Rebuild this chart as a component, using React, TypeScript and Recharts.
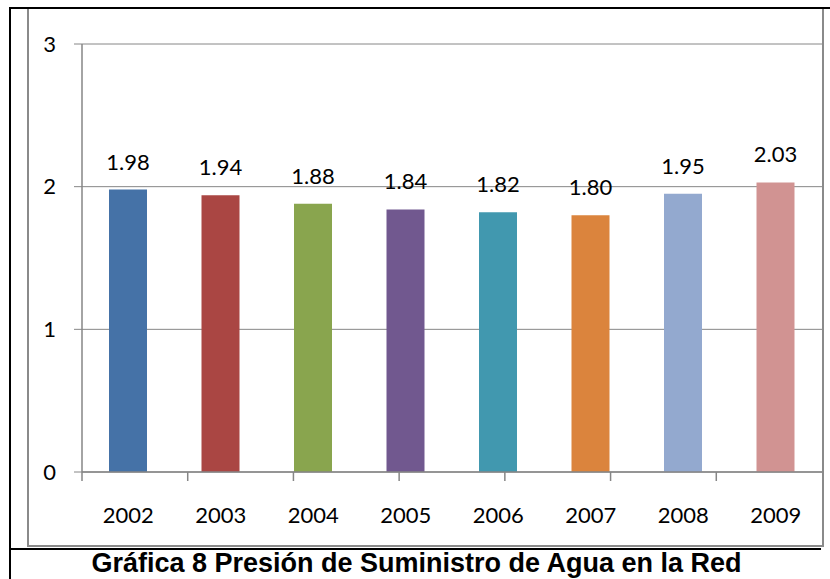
import React from "react";
import { BarChart, Bar, XAxis, YAxis, CartesianGrid, Cell, LabelList } from "recharts";

const years = ["2002", "2003", "2004", "2005", "2006", "2007", "2008", "2009"];
const pressure = [1.98, 1.94, 1.88, 1.84, 1.82, 1.8, 1.95, 2.03];
const barColors = ["#4572A7", "#AA4643", "#89A54E", "#71588F", "#4198AF", "#DB843D", "#93A9CF", "#D19392"];
const yTicks = [0, 1, 2, 3];
const boundaryTicks = [0, 1, 2, 3, 4, 5, 6, 7, 8];
const caption = "Gráfica 8 Presión de Suministro de Agua en la Red";

const data = years.map((year, i) => ({ year, value: pressure[i] }));

const GRAY = "#868686";
const labelFont = { fontFamily: "Lato, 'Open Sans', sans-serif", fontSize: 22, fill: "#000" };

export default function App() {
  return (
    <div style={{ position: "absolute", left: 0, top: 0, width: 830, height: 579, background: "#fff", overflow: "hidden" }}>
      {/* gray chart frame */}
      <div
        style={{
          position: "absolute",
          left: 27,
          top: 7,
          width: 797,
          height: 540,
          boxSizing: "border-box",
          border: `2px solid #8a8a8a`,
        }}
      />
      <div style={{ position: "absolute", left: 29, top: 9 }}>
        <BarChart width={793} height={536} data={data} margin={{ top: 35, right: 0, bottom: 0, left: 0 }}>
          <CartesianGrid xAxisId="b" horizontal vertical={false} stroke={GRAY} />
          <XAxis
            xAxisId="b"
            type="number"
            domain={[0, 8]}
            allowDataOverflow
            ticks={boundaryTicks}
            height={1}
            tick={() => null}
            tickSize={9}
            tickLine={{ stroke: GRAY, strokeWidth: 1.5 }}
            axisLine={{ stroke: GRAY, strokeWidth: 1.5 }}
          />
          <XAxis
            xAxisId="cat"
            dataKey="year"
            height={72}
            tickLine={false}
            axisLine={false}
            tickSize={0}
            tickMargin={34}
            tick={labelFont}
            interval={0}
          />
          <YAxis
            domain={[0, 3]}
            ticks={yTicks}
            width={53}
            tickSize={8}
            tickMargin={18}
            tick={labelFont}
            tickLine={{ stroke: GRAY }}
            axisLine={{ stroke: GRAY, strokeWidth: 1.5 }}
          />
          <Bar xAxisId="cat" dataKey="value" barSize={38} isAnimationActive={false}>
            {data.map((d, i) => (
              <Cell key={d.year} fill={barColors[i]} />
            ))}
            <LabelList
              dataKey="value"
              position="top"
              offset={20}
              formatter={(v: number) => v.toFixed(2)}
              style={labelFont}
            />
          </Bar>
        </BarChart>
      </div>
      {/* black table lines */}
      <div style={{ position: "absolute", left: 10, top: 7, width: 820, height: 2, background: "#000" }} />
      <div style={{ position: "absolute", left: 9, top: 7, width: 2, height: 572, background: "#000" }} />
      <div style={{ position: "absolute", left: 10, top: 548, width: 811, height: 2, background: "#000" }} />
      <div
        style={{
          position: "absolute",
          left: 10,
          width: 813,
          top: 548,
          textAlign: "center",
          fontFamily: "'Liberation Sans', Arial, sans-serif",
          fontWeight: "bold",
          fontSize: 27,
          lineHeight: "31px",
          color: "#000",
          whiteSpace: "nowrap",
        }}
      >
        {caption}
      </div>
    </div>
  );
}
